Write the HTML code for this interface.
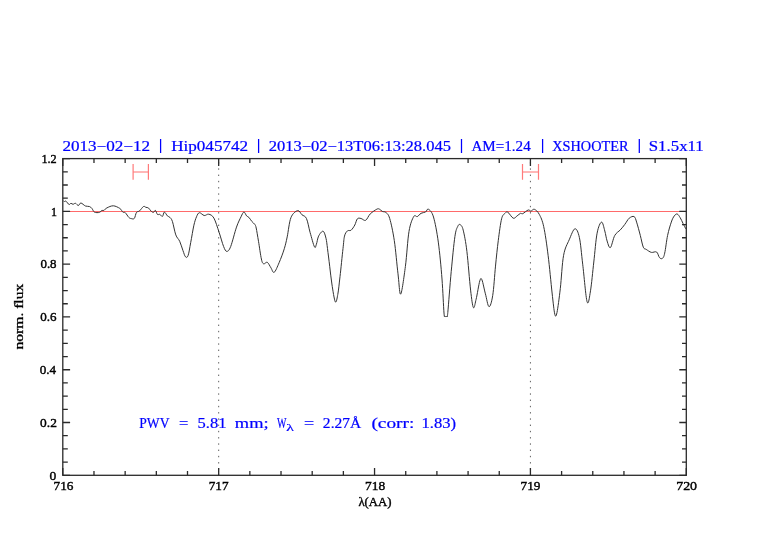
<!DOCTYPE html>
<html><head><meta charset="utf-8"><style>
html,body{margin:0;padding:0;background:#fff;width:782px;height:542px;overflow:hidden}
svg{display:block;will-change:transform}

text{font-family:"Liberation Serif",serif}
</style></head><body>
<svg width="782" height="542" viewBox="0 0 782 542">
<rect width="782" height="542" fill="#fff"/>
<line x1="62.8" y1="211.5" x2="686.3" y2="211.5" stroke="#ff6a6a" stroke-width="1.0"/>
<g stroke="#606060" stroke-width="1.0" stroke-dasharray="1.4 4.85" stroke-dashoffset="-3.5">
<line x1="218.68" y1="158.6" x2="218.68" y2="475.3"/>
<line x1="530.42" y1="158.6" x2="530.42" y2="475.3"/>
</g>
<g stroke="#ffa0a0" stroke-width="1.5" fill="none">
<path d="M133.1,172 H148.4 M522.5,172 H538.5"/>
</g>
<g stroke="#ff7a7a" stroke-width="1.2" fill="none">
<path d="M133.1,164 V179.8 M148.4,164 V179.8 M522.5,164 V179.8 M538.5,164 V179.8"/>
</g>
<path d="M63.5,201.0 C63.7,201.1 64.1,201.5 64.5,201.5 C64.9,201.5 65.2,200.7 66.0,201.2 C66.8,201.7 68.2,204.2 69.0,204.5 C69.8,204.8 70.3,203.3 71.0,203.3 C71.7,203.3 72.2,204.3 73.0,204.3 C73.8,204.3 74.6,203.1 75.5,203.3 C76.4,203.5 77.5,205.6 78.4,205.5 C79.3,205.4 79.7,202.9 80.9,203.0 C82.1,203.1 84.0,205.4 85.4,206.0 C86.8,206.6 88.3,206.1 89.4,206.5 C90.5,206.9 91.1,207.5 91.9,208.4 C92.7,209.3 93.2,211.4 94.4,212.1 C95.7,212.8 98.2,212.7 99.4,212.4 C100.7,212.1 101.2,210.7 101.9,210.4 C102.7,210.1 103.1,210.8 103.9,210.4 C104.7,210.0 105.3,208.7 106.9,207.9 C108.5,207.1 111.2,205.7 113.3,205.8 C115.4,205.9 118.2,207.4 119.8,208.4 C121.4,209.4 121.9,211.4 122.8,212.1 C123.7,212.8 124.3,211.8 125.3,212.7 C126.3,213.6 127.8,216.4 128.8,217.4 C129.8,218.4 130.4,218.4 131.3,218.6 C132.2,218.8 133.4,219.4 134.3,218.4 C135.2,217.4 135.6,213.7 136.5,212.4 C137.4,211.2 138.3,211.9 139.5,210.9 C140.7,209.9 142.4,207.1 143.5,206.5 C144.6,205.9 145.2,207.2 146.0,207.4 C146.8,207.6 147.6,207.3 148.4,207.9 C149.2,208.5 150.1,210.2 150.9,210.9 C151.7,211.7 152.7,212.5 153.4,212.4 C154.2,212.3 154.7,210.1 155.4,210.4 C156.1,210.7 156.7,213.7 157.4,214.4 C158.2,215.1 159.1,214.1 159.9,214.4 C160.7,214.7 161.7,216.8 162.4,216.4 C163.2,216.0 163.6,212.2 164.4,212.1 C165.2,212.0 166.5,215.0 167.4,215.9 C168.3,216.8 169.1,216.5 169.9,217.4 C170.7,218.3 171.4,218.5 172.4,221.4 C173.4,224.3 174.6,231.6 175.8,234.9 C177.0,238.2 178.5,238.7 179.7,241.3 C180.9,243.9 181.9,247.8 182.9,250.4 C183.9,253.0 184.6,256.0 185.5,256.8 C186.4,257.7 187.2,257.9 188.1,255.5 C189.0,253.1 189.7,247.7 190.7,242.6 C191.7,237.5 192.9,229.5 193.9,225.2 C194.9,220.9 195.6,218.9 196.5,216.8 C197.4,214.7 198.1,212.9 199.4,212.7 C200.7,212.5 202.6,215.2 204.2,215.5 C205.8,215.8 207.1,213.8 208.7,214.2 C210.3,214.6 212.2,215.1 213.9,218.1 C215.6,221.1 217.5,227.6 219.1,232.3 C220.7,237.0 222.3,243.3 223.6,246.5 C224.9,249.7 225.6,251.4 226.8,251.4 C228.0,251.4 229.1,250.6 230.7,246.5 C232.3,242.4 234.8,232.0 236.5,227.1 C238.2,222.2 239.8,219.3 241.0,216.8 C242.2,214.3 243.0,212.2 243.9,212.0 C244.8,211.8 245.8,215.0 246.6,215.9 C247.4,216.8 248.0,216.5 248.9,217.4 C249.8,218.3 250.8,220.2 251.8,221.4 C252.8,222.6 254.1,223.3 254.8,224.4 C255.5,225.5 255.6,225.2 256.2,228.0 C256.8,230.8 257.6,236.1 258.5,241.3 C259.4,246.5 260.5,255.2 261.4,259.0 C262.2,262.8 262.6,263.2 263.6,263.8 C264.6,264.4 266.1,261.6 267.3,262.3 C268.5,263.0 269.9,266.2 271.0,267.9 C272.1,269.6 272.8,273.2 274.2,272.3 C275.6,271.4 277.4,266.6 279.1,262.7 C280.8,258.8 283.0,253.0 284.3,248.7 C285.6,244.4 286.1,242.1 287.2,236.9 C288.3,231.7 289.2,222.1 290.9,217.7 C292.6,213.3 295.8,211.1 297.6,210.6 C299.5,210.1 300.5,213.5 302.0,214.8 C303.5,216.1 305.0,215.5 306.4,218.4 C307.8,221.3 308.8,227.8 310.1,232.5 C311.5,237.2 313.4,245.0 314.5,246.9 C315.6,248.8 315.7,246.0 316.4,244.2 C317.1,242.4 317.5,238.3 318.6,236.1 C319.7,233.9 321.9,230.8 323.1,231.2 C324.3,231.6 325.3,235.4 326.0,238.3 C326.7,241.2 326.9,243.9 327.5,248.6 C328.1,253.3 329.0,260.4 329.7,266.3 C330.4,272.2 331.0,278.1 331.9,284.0 C332.8,289.9 334.3,300.1 335.3,301.8 C336.3,303.5 337.0,298.6 337.8,294.4 C338.6,290.2 339.1,284.3 340.0,276.7 C340.9,269.1 342.2,255.4 343.0,248.6 C343.8,241.8 343.8,239.0 344.5,236.1 C345.2,233.2 346.3,231.9 347.4,230.9 C348.5,229.9 349.9,231.2 351.1,230.2 C352.3,229.2 353.8,226.9 354.8,225.0 C355.9,223.1 356.3,219.9 357.4,218.8 C358.4,217.7 359.7,218.2 361.1,218.5 C362.5,218.8 364.2,221.1 365.7,220.3 C367.2,219.5 368.4,215.7 370.3,213.8 C372.2,212.0 375.3,210.0 376.8,209.2 C378.3,208.4 378.6,208.8 379.5,209.2 C380.4,209.6 381.2,210.8 382.3,211.4 C383.4,212.0 384.8,211.3 386.0,212.5 C387.2,213.7 388.3,213.8 389.7,218.5 C391.1,223.2 392.9,231.4 394.3,240.6 C395.7,249.8 396.9,264.9 398.0,273.8 C399.1,282.7 399.5,295.3 400.7,294.1 C401.9,292.9 404.0,276.8 405.4,266.4 C406.8,255.9 407.6,239.7 409.0,231.4 C410.4,223.1 412.3,219.1 413.7,216.6 C415.1,214.1 416.1,217.1 417.3,216.6 C418.5,216.1 419.6,214.1 421.0,213.3 C422.4,212.5 424.4,212.7 425.6,212.0 C426.8,211.3 427.1,208.4 428.4,209.2 C429.7,210.0 431.9,211.5 433.5,217.0 C435.1,222.5 436.9,231.8 438.3,242.1 C439.7,252.4 441.1,267.2 442.0,279.0 C442.9,290.8 443.5,306.8 444.0,313.0 C444.5,319.2 444.5,315.7 445.0,316.2 C445.5,316.7 446.3,316.8 446.8,316.2 C447.3,315.6 447.1,319.9 447.8,312.5 C448.5,305.1 450.0,284.3 451.2,271.7 C452.4,259.1 453.8,244.1 454.9,236.6 C456.0,229.1 456.8,228.5 457.7,226.5 C458.6,224.5 459.2,224.0 460.1,224.6 C461.0,225.2 462.1,225.6 463.2,230.1 C464.3,234.6 465.7,241.4 466.9,251.4 C468.1,261.4 469.5,280.7 470.6,290.1 C471.7,299.5 472.5,306.1 473.4,307.6 C474.3,309.1 475.0,303.8 476.1,299.3 C477.2,294.9 478.8,284.1 479.8,280.9 C480.8,277.7 481.1,277.9 482.0,280.0 C482.9,282.1 484.2,289.4 485.4,293.8 C486.6,298.2 487.8,306.4 489.0,306.7 C490.2,307.0 491.6,302.4 492.7,295.6 C493.8,288.8 494.6,275.3 495.5,266.1 C496.4,256.9 497.3,248.2 498.3,240.3 C499.3,232.4 500.5,223.3 501.6,218.8 C502.7,214.3 504.0,214.4 505.0,213.3 C506.0,212.2 506.4,211.4 507.8,212.2 C509.2,213.0 511.7,217.6 513.2,218.2 C514.8,218.8 515.9,216.7 517.1,215.9 C518.3,215.1 519.6,213.7 520.5,213.3 C521.4,212.9 521.4,214.2 522.7,213.7 C524.0,213.1 526.8,210.4 528.2,210.0 C529.6,209.6 529.9,211.2 530.9,211.1 C531.9,211.0 533.0,208.8 534.4,209.3 C535.8,209.9 537.8,211.5 539.3,214.4 C540.8,217.3 542.2,219.8 543.7,226.6 C545.2,233.4 546.7,244.2 548.1,255.3 C549.5,266.4 551.0,283.2 552.1,293.0 C553.2,302.8 554.0,311.0 554.8,314.2 C555.6,317.4 556.1,316.7 557.0,312.4 C557.9,308.1 559.2,298.1 560.3,288.6 C561.4,279.1 562.1,263.4 563.6,255.3 C565.1,247.2 567.3,244.2 569.2,239.8 C571.1,235.4 573.2,229.2 574.9,228.8 C576.6,228.4 578.1,231.7 579.4,237.6 C580.7,243.5 581.4,253.5 582.7,264.2 C584.0,274.9 585.8,297.4 587.1,301.8 C588.4,306.2 589.4,297.4 590.5,290.8 C591.6,284.2 592.7,271.6 593.8,262.0 C594.9,252.4 595.8,239.8 597.1,233.2 C598.4,226.5 600.2,222.5 601.5,222.1 C602.8,221.7 603.9,227.8 604.8,231.0 C605.7,234.2 606.2,238.2 607.1,241.0 C608.0,243.8 609.1,248.5 610.4,247.6 C611.7,246.7 613.1,238.3 614.8,235.4 C616.4,232.5 618.6,231.7 620.3,229.9 C622.0,228.1 623.3,226.4 624.8,224.4 C626.3,222.4 627.7,219.5 629.2,218.2 C630.8,216.9 632.9,215.9 634.1,216.6 C635.3,217.2 635.6,219.0 636.6,222.1 C637.6,225.2 639.2,231.2 640.3,235.4 C641.4,239.6 642.3,244.9 643.3,247.2 C644.3,249.5 644.9,248.5 646.2,249.4 C647.6,250.3 649.7,252.0 651.4,252.4 C653.1,252.8 655.2,251.1 656.6,252.0 C658.0,252.9 658.5,256.6 659.5,257.6 C660.5,258.7 661.6,259.1 662.5,258.3 C663.4,257.6 663.9,256.9 664.7,253.1 C665.6,249.3 666.5,240.6 667.6,235.4 C668.7,230.2 670.2,225.3 671.3,222.1 C672.4,218.8 673.3,217.2 674.3,215.9 C675.3,214.6 676.2,213.7 677.2,214.0 C678.2,214.3 679.2,216.1 680.2,217.7 C681.2,219.3 682.2,221.8 683.1,223.6 C684.0,225.4 685.3,227.9 685.8,228.8" fill="none" stroke="#333" stroke-width="1.0"/>
<rect x="62.8" y="158.6" width="623.5" height="316.70" fill="none" stroke="#2a2a2a" stroke-width="1.3"/>
<path d="M62.80,475.30 h7.3 M686.30,475.30 h-7.0 M62.80,462.10 h5.0 M686.30,462.10 h-4.3 M62.80,448.91 h5.0 M686.30,448.91 h-4.3 M62.80,435.71 h5.0 M686.30,435.71 h-4.3 M62.80,422.52 h7.3 M686.30,422.52 h-7.0 M62.80,409.32 h5.0 M686.30,409.32 h-4.3 M62.80,396.12 h5.0 M686.30,396.12 h-4.3 M62.80,382.93 h5.0 M686.30,382.93 h-4.3 M62.80,369.73 h7.3 M686.30,369.73 h-7.0 M62.80,356.54 h5.0 M686.30,356.54 h-4.3 M62.80,343.34 h5.0 M686.30,343.34 h-4.3 M62.80,330.15 h5.0 M686.30,330.15 h-4.3 M62.80,316.95 h7.3 M686.30,316.95 h-7.0 M62.80,303.75 h5.0 M686.30,303.75 h-4.3 M62.80,290.56 h5.0 M686.30,290.56 h-4.3 M62.80,277.36 h5.0 M686.30,277.36 h-4.3 M62.80,264.17 h7.3 M686.30,264.17 h-7.0 M62.80,250.97 h5.0 M686.30,250.97 h-4.3 M62.80,237.77 h5.0 M686.30,237.77 h-4.3 M62.80,224.58 h5.0 M686.30,224.58 h-4.3 M62.80,211.38 h7.3 M686.30,211.38 h-7.0 M62.80,198.19 h5.0 M686.30,198.19 h-4.3 M62.80,184.99 h5.0 M686.30,184.99 h-4.3 M62.80,171.80 h5.0 M686.30,171.80 h-4.3 M62.80,158.60 h7.3 M686.30,158.60 h-7.0 M62.80,475.30 v-7.3 M62.80,158.60 v7.3 M93.98,475.30 v-4.3 M93.98,158.60 v4.3 M125.15,475.30 v-4.3 M125.15,158.60 v4.3 M156.33,475.30 v-4.3 M156.33,158.60 v4.3 M187.50,475.30 v-4.3 M187.50,158.60 v4.3 M218.68,475.30 v-7.3 M218.68,158.60 v7.3 M249.85,475.30 v-4.3 M249.85,158.60 v4.3 M281.02,475.30 v-4.3 M281.02,158.60 v4.3 M312.20,475.30 v-4.3 M312.20,158.60 v4.3 M343.37,475.30 v-4.3 M343.37,158.60 v4.3 M374.55,475.30 v-7.3 M374.55,158.60 v7.3 M405.73,475.30 v-4.3 M405.73,158.60 v4.3 M436.90,475.30 v-4.3 M436.90,158.60 v4.3 M468.08,475.30 v-4.3 M468.08,158.60 v4.3 M499.25,475.30 v-4.3 M499.25,158.60 v4.3 M530.42,475.30 v-7.3 M530.42,158.60 v7.3 M561.60,475.30 v-4.3 M561.60,158.60 v4.3 M592.77,475.30 v-4.3 M592.77,158.60 v4.3 M623.95,475.30 v-4.3 M623.95,158.60 v4.3 M655.12,475.30 v-4.3 M655.12,158.60 v4.3 M686.30,475.30 v-7.3 M686.30,158.60 v7.3" stroke="#2a2a2a" stroke-width="1.3" fill="none"/>
<path d="M160.6,139.1 V152.9 M258.6,139.1 V152.9 M461.5,139.1 V152.9 M542.6,139.1 V152.9 M639.3,139.1 V152.9" stroke="#0000ff" stroke-width="1.25"/>
<text x="62.45" y="151.00" font-size="14.39" fill="#0000ff" stroke="#0000ff" stroke-width="0.22" textLength="87.64" lengthAdjust="spacingAndGlyphs">2013−02−12</text>
<text x="171.17" y="151.00" font-size="14.39" fill="#0000ff" stroke="#0000ff" stroke-width="0.22" textLength="76.97" lengthAdjust="spacingAndGlyphs">Hip045742</text>
<text x="268.66" y="151.00" font-size="14.39" fill="#0000ff" stroke="#0000ff" stroke-width="0.22" textLength="182.36" lengthAdjust="spacingAndGlyphs">2013−02−13T06:13:28.045</text>
<text x="471.47" y="151.00" font-size="14.39" fill="#0000ff" stroke="#0000ff" stroke-width="0.22" textLength="59.21" lengthAdjust="spacingAndGlyphs">AM=1.24</text>
<text x="552.24" y="151.00" font-size="14.39" fill="#0000ff" stroke="#0000ff" stroke-width="0.22" textLength="76.24" lengthAdjust="spacingAndGlyphs">XSHOOTER</text>
<text x="648.78" y="151.00" font-size="14.39" fill="#0000ff" stroke="#0000ff" stroke-width="0.22" textLength="54.97" lengthAdjust="spacingAndGlyphs">S1.5x11</text>
<text x="41.39" y="163.00" font-size="12.80" fill="#000000" stroke="#000000" stroke-width="0.40" textLength="15.30" lengthAdjust="spacingAndGlyphs">1.2</text>
<text x="50.96" y="216.00" font-size="12.80" fill="#000000" stroke="#000000" stroke-width="0.40" textLength="6.01" lengthAdjust="spacingAndGlyphs">1</text>
<text x="40.41" y="268.00" font-size="12.80" fill="#000000" stroke="#000000" stroke-width="0.40" textLength="16.19" lengthAdjust="spacingAndGlyphs">0.8</text>
<text x="40.22" y="321.00" font-size="12.80" fill="#000000" stroke="#000000" stroke-width="0.40" textLength="16.30" lengthAdjust="spacingAndGlyphs">0.6</text>
<text x="39.66" y="374.00" font-size="12.80" fill="#000000" stroke="#000000" stroke-width="0.40" textLength="16.41" lengthAdjust="spacingAndGlyphs">0.4</text>
<text x="40.13" y="427.00" font-size="12.80" fill="#000000" stroke="#000000" stroke-width="0.40" textLength="16.77" lengthAdjust="spacingAndGlyphs">0.2</text>
<text x="49.55" y="480.00" font-size="12.80" fill="#000000" stroke="#000000" stroke-width="0.40" textLength="6.77" lengthAdjust="spacingAndGlyphs">0</text>
<text x="53.60" y="490.00" font-size="12.80" fill="#000000" stroke="#000000" stroke-width="0.40" textLength="19.90" lengthAdjust="spacingAndGlyphs">716</text>
<text x="208.71" y="490.00" font-size="12.80" fill="#000000" stroke="#000000" stroke-width="0.40" textLength="19.85" lengthAdjust="spacingAndGlyphs">717</text>
<text x="364.95" y="490.00" font-size="12.80" fill="#000000" stroke="#000000" stroke-width="0.40" textLength="20.18" lengthAdjust="spacingAndGlyphs">718</text>
<text x="520.60" y="490.00" font-size="12.80" fill="#000000" stroke="#000000" stroke-width="0.40" textLength="19.85" lengthAdjust="spacingAndGlyphs">719</text>
<text x="676.20" y="490.00" font-size="12.80" fill="#000000" stroke="#000000" stroke-width="0.40" textLength="20.91" lengthAdjust="spacingAndGlyphs">720</text>
<text x="358.42" y="506.00" font-size="12.15" fill="#000000" stroke="#000000" stroke-width="0.35" textLength="33.01" lengthAdjust="spacingAndGlyphs">λ(AA)</text>
<text x="139.27" y="428.00" font-size="15.47" fill="#0000ff" stroke="#0000ff" stroke-width="0.22" textLength="30.17" lengthAdjust="spacingAndGlyphs">PWV</text>
<text x="179.11" y="428.00" font-size="15.47" fill="#0000ff" stroke="#0000ff" stroke-width="0.22" textLength="9.35" lengthAdjust="spacingAndGlyphs">=</text>
<text x="197.52" y="428.00" font-size="15.47" fill="#0000ff" stroke="#0000ff" stroke-width="0.22" textLength="28.89" lengthAdjust="spacingAndGlyphs">5.81</text>
<text x="234.87" y="428.00" font-size="15.47" fill="#0000ff" stroke="#0000ff" stroke-width="0.22" textLength="33.76" lengthAdjust="spacingAndGlyphs">mm;</text>
<text x="277.03" y="428.00" font-size="15.47" fill="#0000ff" stroke="#0000ff" stroke-width="0.22" textLength="9.47" lengthAdjust="spacingAndGlyphs">W</text>
<text x="286.28" y="431.00" font-size="9.94" fill="#0000ff" stroke="#0000ff" stroke-width="0.22" textLength="7.69" lengthAdjust="spacingAndGlyphs">λ</text>
<text x="304.04" y="428.00" font-size="15.47" fill="#0000ff" stroke="#0000ff" stroke-width="0.22" textLength="10.18" lengthAdjust="spacingAndGlyphs">=</text>
<text x="322.88" y="428.00" font-size="15.47" fill="#0000ff" stroke="#0000ff" stroke-width="0.22" textLength="38.33" lengthAdjust="spacingAndGlyphs">2.27Å</text>
<text x="371.42" y="428.00" font-size="15.47" fill="#0000ff" stroke="#0000ff" stroke-width="0.22" textLength="42.85" lengthAdjust="spacingAndGlyphs">(corr:</text>
<text x="421.44" y="428.00" font-size="15.47" fill="#0000ff" stroke="#0000ff" stroke-width="0.22" textLength="34.57" lengthAdjust="spacingAndGlyphs">1.83)</text>
<text transform="translate(23.0,316.6) rotate(-90)" x="0" y="0" font-size="11.5" fill="#000" stroke="#000" stroke-width="0.3" text-anchor="middle" textLength="65.7" lengthAdjust="spacingAndGlyphs">norm. flux</text>
</svg>
</body></html>
